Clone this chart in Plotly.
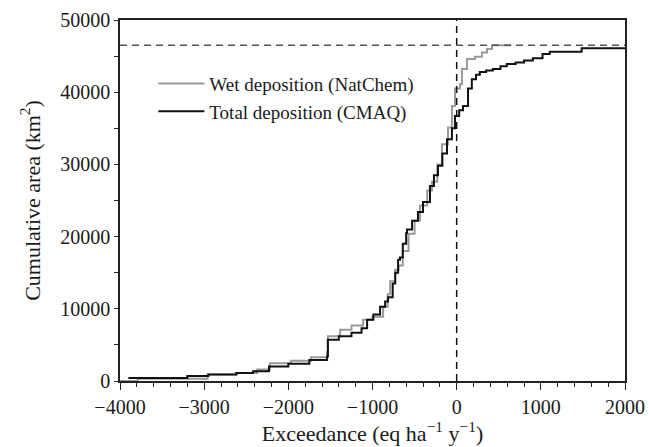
import plotly.graph_objects as go

# Total deposition (CMAQ) cumulative area step curve
total_x = [-3900, -3200, -2950, -2620, -2420, -2230, -2000, -1750, -1540, -1530,
           -1400, -1250, -1130, -1064, -990, -910, -850, -815, -760, -730,
           -696, -673, -640, -600, -590, -530, -460, -400, -317, -270,
           -222, -170, -115, -56, -20, 30, 75, 135, 180, 230,
           275, 350, 430, 520, 595, 700, 800, 905, 1020, 1106,
           1425, 1485, 2000]
total_y = [400, 700, 900, 1100, 1350, 2000, 2400, 2900, 3400, 5700,
           6200, 6700, 7300, 8500, 9200, 10300, 11000, 11600, 13500, 15000,
           16800, 17100, 19000, 20500, 21000, 22200, 23400, 24800, 27000, 28500,
           29800, 31500, 33500, 35000, 36700, 37500, 38100, 40500, 41800, 42400,
           42800, 43000, 43200, 43600, 43900, 44100, 44400, 44700, 45300, 45600,
           45600, 46100, 46100]

# Wet deposition (NatChem) cumulative area step curve
wet_x = [-4000, -3790, -2960, -2610, -2370, -2220, -1970, -1730, -1540, -1530,
         -1385, -1250, -1112, -1000, -874, -820, -790, -731, -690, -640,
         -572, -500, -436, -350, -293, -230, -175, -103, -56, -20,
         40, 63, 122, 217, 300, 360, 420, 650]
wet_y = [0, 300, 900, 1100, 1600, 2450, 2800, 3300, 4000, 6200,
         7100, 7700, 8500, 8900, 10300, 12000, 13800, 15400, 16000, 18000,
         20400, 22200, 24300, 26400, 27600, 30000, 32800, 35100, 38100, 40500,
         41100, 43200, 44600, 44900, 45500, 46000, 46500, 46500]

total_area = 46500      # horizontal dashed reference line
zero_exceedance = 0     # vertical dashed reference line

x_range = [-4000, 2000]
y_range = [0, 50000]

fig = go.Figure()
fig.add_trace(go.Scatter(x=wet_x, y=wet_y, mode="lines", line_shape="hv",
                         line=dict(color="#9a9a9a", width=2),
                         name="Wet deposition (NatChem)"))
fig.add_trace(go.Scatter(x=total_x, y=total_y, mode="lines", line_shape="hv",
                         line=dict(color="#111111", width=2),
                         name="Total deposition (CMAQ)"))

fig.add_shape(type="line", xref="x", yref="paper", x0=zero_exceedance, x1=zero_exceedance,
              y0=0, y1=1, line=dict(color="#111111", width=1.5, dash="7px,5px"))
fig.add_shape(type="line", xref="paper", yref="y", x0=0, x1=1,
              y0=total_area, y1=total_area, line=dict(color="#555555", width=1.5, dash="7px,5px"))

font_family = "Liberation Serif"
text_color = "#1a1a1a"
fig.update_layout(
    width=650, height=447,
    margin=dict(l=120, r=25, t=20, b=66, autoexpand=False),
    paper_bgcolor="white", plot_bgcolor="white",
    font=dict(family=font_family, color=text_color, size=20),
    showlegend=True,
    legend=dict(x=0.066, y=0.876, xanchor="left", yanchor="top",
                bgcolor="rgba(0,0,0,0)", font=dict(size=19, family=font_family, color=text_color),
                itemwidth=46, tracegroupgap=0),
    xaxis=dict(range=x_range, dtick=1000, tick0=0, ticks="outside", ticklen=7, tickwidth=1.2,
               tickcolor="#222222", showline=True, linecolor="#222222", linewidth=1.5, mirror=True,
               showgrid=False, zeroline=False, tickfont=dict(size=20, family=font_family),
               automargin=False,
               minor=dict(dtick=200, ticks="outside", ticklen=4, tickcolor="#222222", showgrid=False),
               title=dict(text="Exceedance (eq ha<sup>−1</sup> y<sup>−1</sup>)",
                          font=dict(size=22, family=font_family), standoff=4)),
    yaxis=dict(range=y_range, dtick=10000, tick0=0, ticks="outside", ticklen=4, tickwidth=1.2,
               tickcolor="#222222", showline=True, linecolor="#222222", linewidth=1.5, mirror=True,
               showgrid=False, zeroline=False, tickformat="d", tickfont=dict(size=20, family=font_family),
               automargin=False,
               minor=dict(dtick=5000, ticks="outside", ticklen=4, tickcolor="#222222", showgrid=False),
               title=dict(text="Cumulative area (km<sup>2</sup>)",
                          font=dict(size=22, family=font_family), standoff=14)),
)

fig.write_html("out.html", config={"displayModeBar": False},
               post_script="document.body.style.margin='0';")
